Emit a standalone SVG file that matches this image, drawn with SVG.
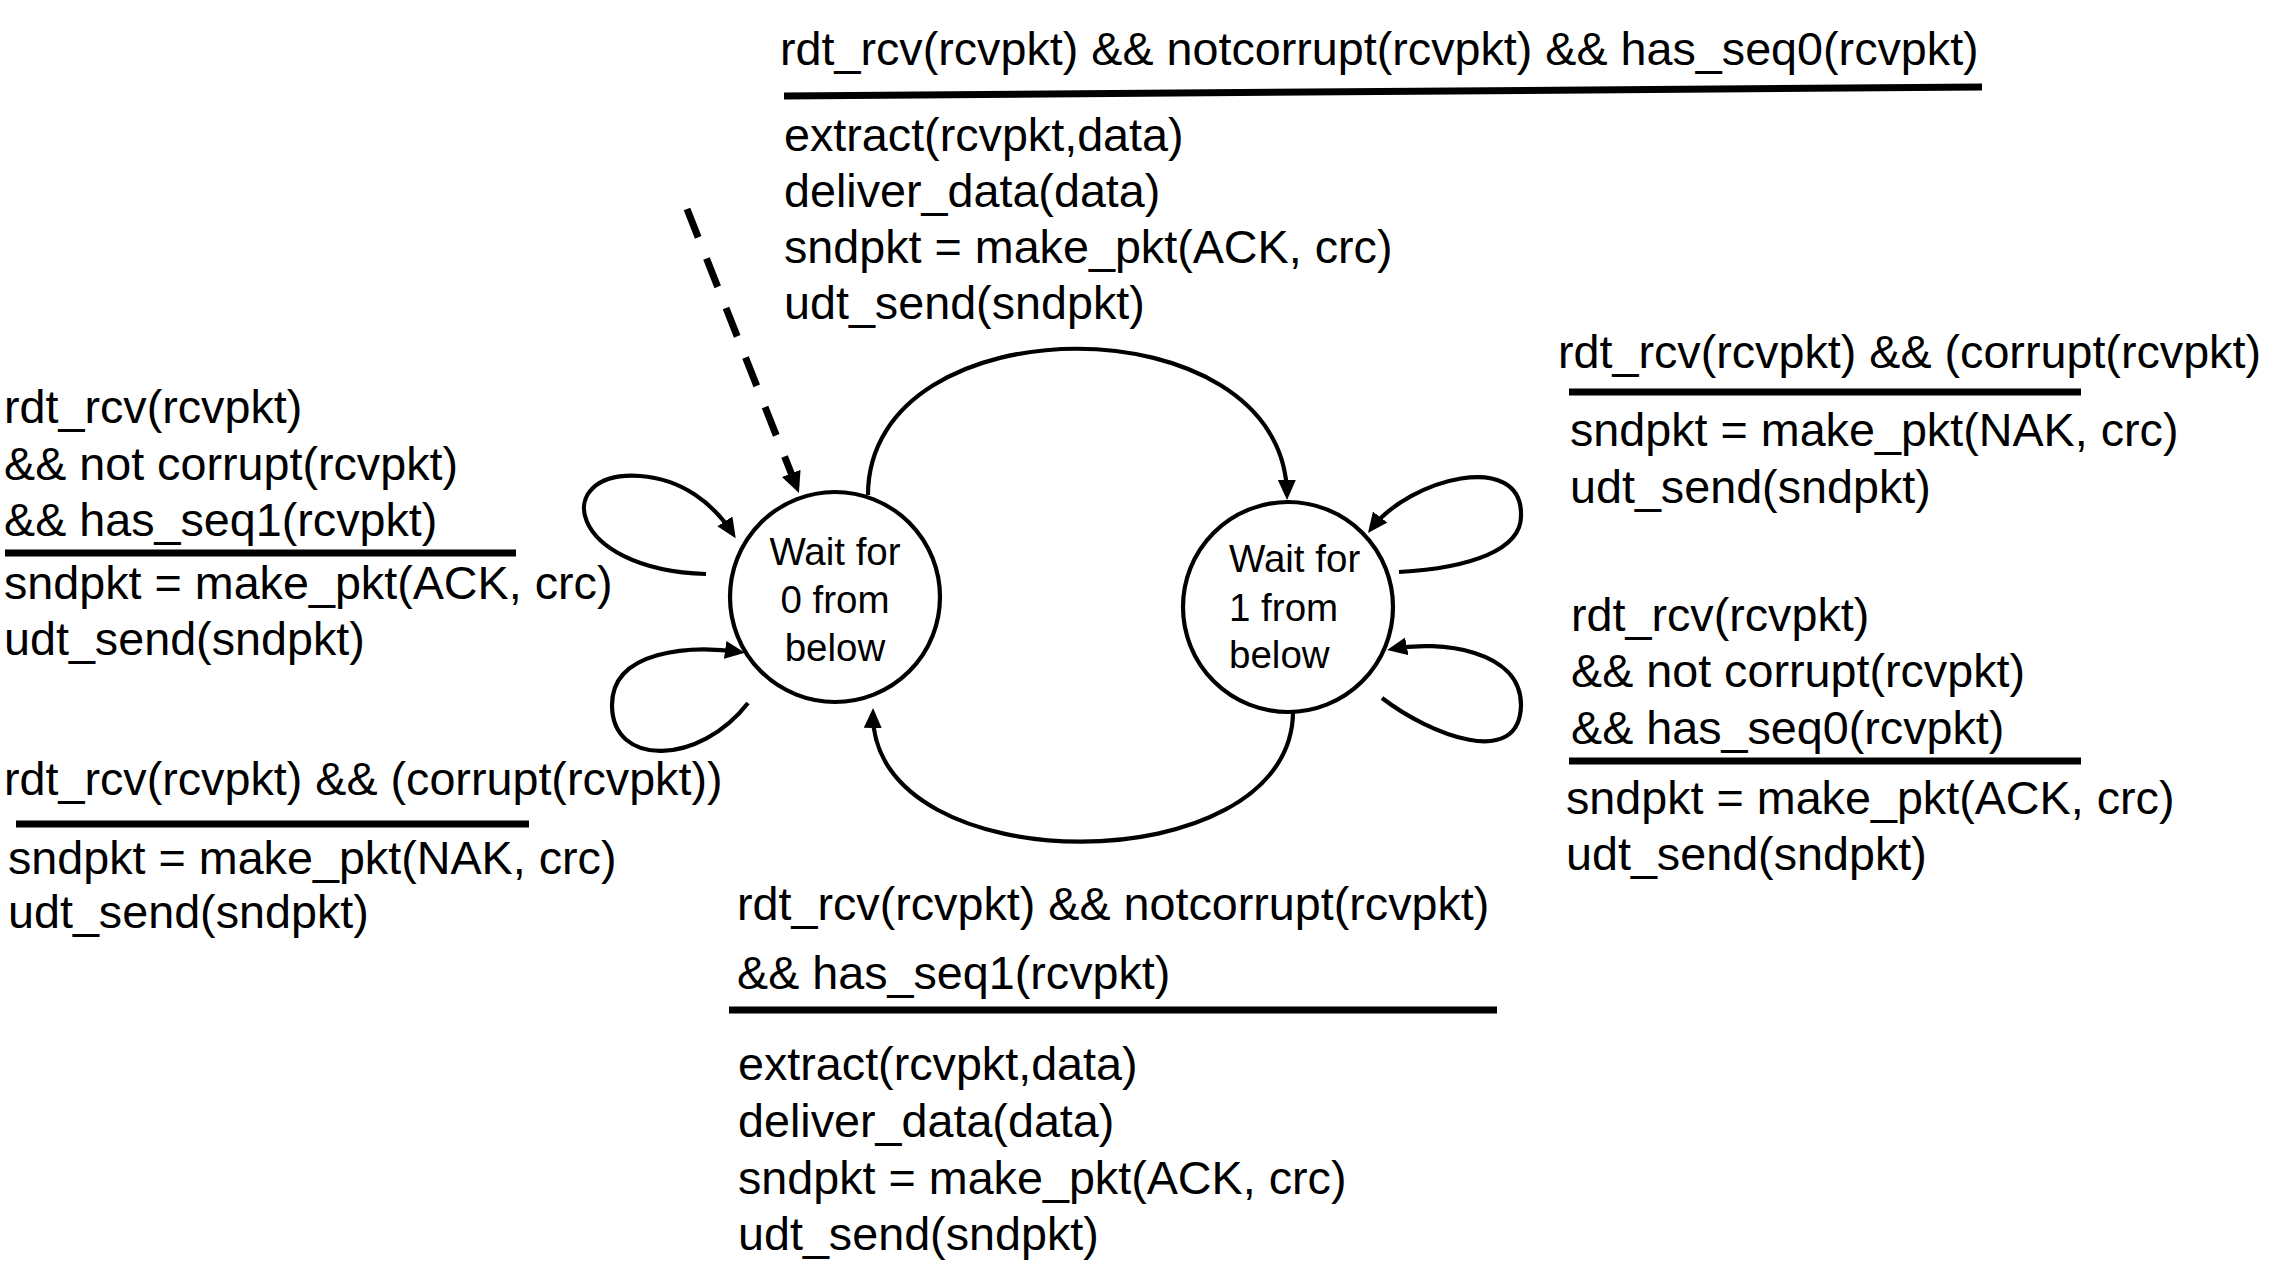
<svg xmlns="http://www.w3.org/2000/svg" width="2278" height="1275" viewBox="0 0 2278 1275">
<style>
.t{font-family:"Liberation Sans",Arial,sans-serif;font-size:46.7px;fill:#000}
.s{font-family:"Liberation Sans",Arial,sans-serif;font-size:38.5px;fill:#000}
.bar{stroke:#000;stroke-width:7;fill:none}
.st{fill:#fff;stroke:#000;stroke-width:4.2}
.c{fill:none;stroke:#000;stroke-width:4.2;marker-end:url(#ah)}
.dash{fill:none;stroke:#000;stroke-width:7;stroke-dasharray:30.5 22.7;marker-end:url(#ahd)}
</style>
<defs>
<marker id="ah" markerUnits="userSpaceOnUse" markerWidth="22" markerHeight="20" refX="15" refY="9" orient="auto">
<path d="M0,0 L20,9 L0,18 z" fill="#000" stroke="none"/>
</marker>
<marker id="ahd" markerUnits="userSpaceOnUse" markerWidth="24" markerHeight="22" refX="13" refY="10" orient="auto">
<path d="M0,0 L21,10 L0,20 z" fill="#000" stroke="none"/>
</marker>
</defs>
<rect width="2278" height="1275" fill="#fff"/>

<g id="connectors">
<path class="dash" d="M687,209 L796,485.5"/>
<path class="c" d="M868,495 C868,300 1285,300 1287,495"/>
<path class="c" d="M1293,713 C1290,884.5 870,884.5 873,713"/>
<path class="c" d="M706,574 C566,570 550,470 640,476 C682,479 713,503 733,534"/>
<path class="c" d="M748,703 C700,765 612,768 612,705 C612,650 690,645 740,652"/>
<path class="c" d="M1399,572 C1470,568 1522,550 1521,515 C1522,450 1410,478 1371,529"/>
<path class="c" d="M1382,698 C1430,735 1520,770 1521,705 C1521,650 1440,640 1392,649"/>
</g>

<g id="state0">
<circle class="st" cx="835" cy="597" r="105"/>
<text class="s" x="835" y="565" text-anchor="middle">Wait for</text>
<text class="s" x="835" y="613" text-anchor="middle">0 from</text>
<text class="s" x="835" y="661" text-anchor="middle">below</text>
</g>

<g id="state1">
<circle class="st" cx="1288" cy="607" r="105"/>
<text class="s" x="1229" y="572">Wait for</text>
<text class="s" x="1229" y="621">1 from</text>
<text class="s" x="1229" y="668">below</text>
</g>

<g id="label-top">
<text class="t" x="780" y="65">rdt_rcv(rcvpkt) &amp;&amp; notcorrupt(rcvpkt) &amp;&amp; has_seq0(rcvpkt)</text>
<line class="bar" x1="784" y1="96" x2="1982" y2="87"/>
<text class="t" x="784" y="151">extract(rcvpkt,data)</text>
<text class="t" x="784" y="207">deliver_data(data)</text>
<text class="t" x="784" y="263">sndpkt = make_pkt(ACK, crc)</text>
<text class="t" x="784" y="319">udt_send(sndpkt)</text>
</g>

<g id="label-left-top">
<text class="t" x="4" y="423">rdt_rcv(rcvpkt)</text>
<text class="t" x="4" y="479.5">&amp;&amp; not corrupt(rcvpkt)</text>
<text class="t" x="4" y="536">&amp;&amp; has_seq1(rcvpkt)</text>
<line class="bar" x1="5" y1="553" x2="516" y2="553"/>
<text class="t" x="4" y="599">sndpkt = make_pkt(ACK, crc)</text>
<text class="t" x="4" y="655">udt_send(sndpkt)</text>
</g>

<g id="label-left-bottom">
<text class="t" x="4" y="795">rdt_rcv(rcvpkt) &amp;&amp; (corrupt(rcvpkt))</text>
<line class="bar" x1="16" y1="824" x2="529" y2="824"/>
<text class="t" x="8" y="874">sndpkt = make_pkt(NAK, crc)</text>
<text class="t" x="8" y="928">udt_send(sndpkt)</text>
</g>

<g id="label-right-top">
<text class="t" x="1558" y="368">rdt_rcv(rcvpkt) &amp;&amp; (corrupt(rcvpkt)</text>
<line class="bar" x1="1569" y1="392" x2="2081" y2="392"/>
<text class="t" x="1570" y="446">sndpkt = make_pkt(NAK, crc)</text>
<text class="t" x="1570" y="503">udt_send(sndpkt)</text>
</g>

<g id="label-right-bottom">
<text class="t" x="1571" y="631">rdt_rcv(rcvpkt)</text>
<text class="t" x="1571" y="686.5">&amp;&amp; not corrupt(rcvpkt)</text>
<text class="t" x="1571" y="744">&amp;&amp; has_seq0(rcvpkt)</text>
<line class="bar" x1="1569" y1="761" x2="2081" y2="761"/>
<text class="t" x="1566" y="814">sndpkt = make_pkt(ACK, crc)</text>
<text class="t" x="1566" y="870">udt_send(sndpkt)</text>
</g>

<g id="label-bottom">
<text class="t" x="737" y="920">rdt_rcv(rcvpkt) &amp;&amp; notcorrupt(rcvpkt)</text>
<text class="t" x="737" y="989">&amp;&amp; has_seq1(rcvpkt)</text>
<line class="bar" x1="729" y1="1010" x2="1497" y2="1010"/>
<text class="t" x="738" y="1080">extract(rcvpkt,data)</text>
<text class="t" x="738" y="1137">deliver_data(data)</text>
<text class="t" x="738" y="1194">sndpkt = make_pkt(ACK, crc)</text>
<text class="t" x="738" y="1250">udt_send(sndpkt)</text>
</g>
</svg>
